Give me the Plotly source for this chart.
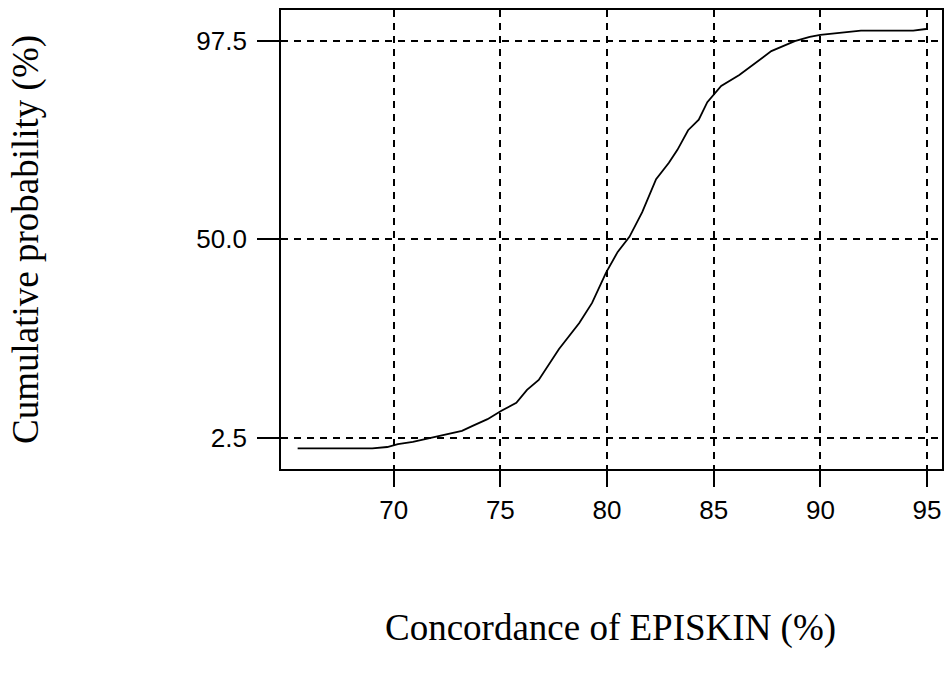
import plotly.graph_objects as go

# Cumulative distribution of EPISKIN concordance
concordance = [65.5, 69.0, 69.7, 70.2, 70.9, 71.7, 72.5, 73.2, 73.7, 74.4, 75.05,
               75.75, 76.25, 76.8, 77.75, 78.7, 79.3, 79.95, 80.5, 81.05, 81.65,
               82.3, 82.9, 83.3, 83.8, 84.3, 84.7, 85.35, 86.2, 86.9, 87.7,
               88.8, 89.5, 90.0, 91.0, 91.9, 94.35, 94.95]
cum_prob = [0.0, 0.0, 0.35, 1.05, 1.55, 2.5, 3.45, 4.2, 5.4, 7.0, 9.0,
            10.9, 14.0, 16.4, 23.8, 30.0, 34.8, 42.0, 47.0, 50.6, 56.5,
            64.4, 68.3, 71.4, 76.1, 78.6, 82.8, 86.7, 89.3, 91.9, 95.0,
            97.4, 98.4, 98.9, 99.35, 99.9, 99.9, 100.3]

x_ticks = [70, 75, 80, 85, 90, 95]
y_ticks = [2.5, 50.0, 97.5]
y_tick_text = ["2.5", "50.0", "97.5"]

fig = go.Figure()
fig.add_trace(go.Scatter(x=concordance, y=cum_prob, mode="lines",
                         line=dict(color="black", width=1.8),
                         showlegend=False, hoverinfo="skip"))

fig.update_layout(
    width=949, height=677,
    margin=dict(l=281, r=5, t=10, b=208),
    plot_bgcolor="white", paper_bgcolor="white",
    font=dict(family="Liberation Sans, Arial", color="black", size=26),
    xaxis=dict(range=[64.72, 95.70], tickvals=x_ticks,
               showline=True, mirror=True, linecolor="black", linewidth=1.8,
               ticks="outside", ticklen=16, tickwidth=1.5, tickcolor="black",
               showgrid=True, gridcolor="black", gridwidth=1.6, griddash="7px,6px",
               zeroline=False, ticklabelstandoff=1,
               tickfont=dict(size=26)),
    yaxis=dict(range=[-4.91, 104.84], tickvals=y_ticks, ticktext=y_tick_text,
               showline=True, mirror=True, linecolor="black", linewidth=1.8,
               ticks="outside", ticklen=22, tickwidth=1.5, tickcolor="black",
               showgrid=True, gridcolor="black", gridwidth=1.6, griddash="7px,6px",
               zeroline=False, ticklabelstandoff=5,
               tickfont=dict(size=26)),
    annotations=[
        dict(text="Concordance of EPISKIN (%)", xref="paper", yref="paper",
             x=0.499, y=-0.346, xanchor="center", yanchor="middle",
             showarrow=False,
             font=dict(family="Liberation Serif, Times New Roman", size=37)),
        dict(text="Cumulative probability (%)", xref="paper", yref="paper",
             x=-0.386, y=0.501, xanchor="center", yanchor="middle",
             textangle=-90, showarrow=False,
             font=dict(family="Liberation Serif, Times New Roman", size=37)),
    ],
)

fig.write_html("out.html")
